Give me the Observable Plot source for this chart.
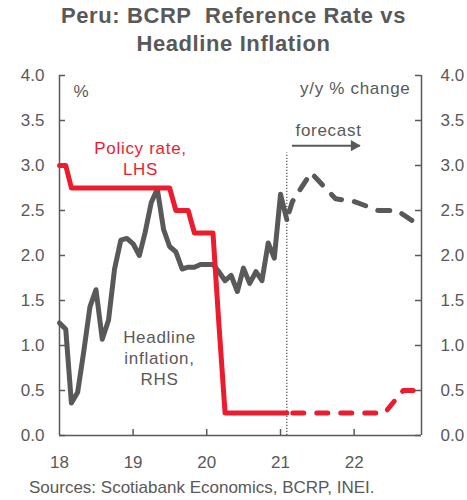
<!DOCTYPE html>
<html><head><meta charset="utf-8">
<script src="https://cdn.jsdelivr.net/npm/d3@7"></script>
<script src="https://cdn.jsdelivr.net/npm/@observablehq/plot@0.6"></script>
<style>
body{margin:0;background:#fff;font-family:"Liberation Sans",Arial,sans-serif;color:#595959;}
#title{width:467px;text-align:center;font-weight:bold;font-size:22px;letter-spacing:0.6px;line-height:28px;height:58px;padding-top:2px;box-sizing:border-box;}
#chart{height:414px;}
#caption{font-size:17px;padding-left:29px;line-height:20px;padding-top:6px;}
</style></head><body>
<div id="title">Peru: BCRP&nbsp; Reference Rate vs<br>Headline Inflation</div>
<div id="chart"></div>
<div id="caption">Sources: Scotiabank Economics, BCRP, INEI.</div>
<script>
// ---- data ----
const actualStart = "2018-01"; // monthly, Jan 2018 - Feb 2021
const policyRateActual = [
  3.00, 3.00, 2.75, 2.75, 2.75, 2.75, 2.75, 2.75, 2.75, 2.75, 2.75, 2.75,
  2.75, 2.75, 2.75, 2.75, 2.75, 2.75, 2.75, 2.50, 2.50, 2.50, 2.25, 2.25,
  2.25, 2.25, 1.25, 0.25, 0.25, 0.25, 0.25, 0.25, 0.25, 0.25, 0.25, 0.25,
  0.25, 0.25
];
const inflationActual = [
  1.25, 1.18, 0.36, 0.48, 0.93, 1.43, 1.62, 1.07, 1.28, 1.85, 2.17, 2.19,
  2.13, 2.00, 2.25, 2.59, 2.74, 2.29, 2.10, 2.04, 1.85, 1.87, 1.87, 1.90,
  1.90, 1.90, 1.82, 1.72, 1.78, 1.60, 1.86, 1.69, 1.82, 1.72, 2.14, 1.97,
  2.68, 2.40
];
const policyForecastMonths = ["2021-02", "2022-06", "2022-09", "2022-12"];
const policyForecastValues = [0.25, 0.25, 0.50, 0.50];
const inflationForecastMonths = ["2021-02", "2021-03", "2021-06", "2021-10", "2022-01", "2022-05", "2022-08", "2022-12"];
const inflationForecastValues = [2.40, 2.60, 2.92, 2.63, 2.60, 2.50, 2.50, 2.32];
const yTicks = [0, 0.5, 1.0, 1.5, 2.0, 2.5, 3.0, 3.5, 4.0];
const xTickMonths = ["2018-01", "2019-01", "2020-01", "2021-01", "2022-01"];
const xDomainMonths = ["2018-01", "2022-12"];
const forecastStartMonth = "2021-02";

// ---- build ----
const parse = d3.utcParse("%Y-%m");
const start = parse(actualStart);
const rateAct = policyRateActual.map((v, i) => ({date: d3.utcMonth.offset(start, i), value: v}));
const inflAct = inflationActual.map((v, i) => ({date: d3.utcMonth.offset(start, i), value: v}));
const rateFc = policyForecastMonths.map((m, i) => ({date: parse(m), value: policyForecastValues[i]}));
const inflFc = inflationForecastMonths.map((m, i) => ({date: parse(m), value: inflationForecastValues[i]}));
const xTicks = xTickMonths.map(parse);
const xDomain = xDomainMonths.map(parse);
const fcStart = parse(forecastStartMonth);

const W = 467, H = 414, mT = 17, mL = 59, mR = 46, mB = 37;
const frameW = W - mL - mR, frameH = H - mT - mB;
const red = "#ec1c2e", gray = "#595959";
const font = 17;
const label = {frameAnchor: "top-left", textAnchor: "middle", lineAnchor: "middle", fontSize: font, lineHeight: 1.25};

const chart = Plot.plot({
  width: W, height: H,
  marginTop: mT, marginLeft: mL, marginRight: mR, marginBottom: mB,
  style: {fontFamily: '"Liberation Sans", Arial, sans-serif', fontSize: font + "px", color: gray, background: "#fff"},
  x: {type: "utc", domain: xDomain},
  y: {domain: [0, 4]},
  marks: [
    Plot.axisY(yTicks, {anchor: "left", tickSize: 0, tickPadding: 15, tickFormat: d3.format(".1f"), label: null, fill: gray, fontSize: font}),
    Plot.axisY(yTicks, {anchor: "right", tickSize: 0, tickPadding: 19, tickFormat: d3.format(".1f"), label: null, fill: gray, fontSize: font, textAnchor: "start"}),
    Plot.axisX(xTicks, {anchor: "bottom", tickSize: 0, tickPadding: 20, tickFormat: d3.utcFormat("%y"), label: null, fill: gray, fontSize: font}),
    // axis lines
    Plot.ruleX([xDomain[0], xDomain[1]], {y1: 0, y2: 4, stroke: gray, strokeWidth: 1.5}),
    Plot.ruleY([0], {stroke: gray, strokeWidth: 1.5}),
    // inward ticks
    Plot.tickY(yTicks, {y: d => d, insetRight: frameW - 6, stroke: gray, strokeWidth: 1.5}),
    Plot.tickY(yTicks, {y: d => d, insetLeft: frameW - 6, stroke: gray, strokeWidth: 1.5}),
    Plot.tickX(xTicks.slice(1), {x: d => d, insetTop: frameH - 6, stroke: gray, strokeWidth: 1.5}),
    // forecast divider
    Plot.ruleX([fcStart], {y1: 0, y2: 3.14, stroke: gray, strokeWidth: 1.3, strokeDasharray: "1.3,1.7"}),
    // series
    Plot.line(inflAct, {x: "date", y: "value", stroke: gray, strokeWidth: 5, strokeLinejoin: "round", strokeLinecap: "round"}),
    Plot.line(inflFc, {x: "date", y: "value", stroke: gray, strokeWidth: 5, strokeLinejoin: "round", strokeLinecap: "round", strokeDasharray: "12,13", strokeDashoffset: -8}),
    Plot.line(rateAct, {x: "date", y: "value", stroke: red, strokeWidth: 5, strokeLinejoin: "round"}),
    Plot.line(rateFc, {x: "date", y: "value", stroke: red, strokeWidth: 5, strokeLinejoin: "round", strokeLinecap: "round", strokeDasharray: "11,13", strokeDashoffset: -6}),
    // annotations
    Plot.text(["%"], {...label, dx: 22, dy: 15, fill: gray}),
    Plot.text(["Policy rate,\nLHS"], {...label, dx: 81, dy: 82.5, fill: red}),
    Plot.text(["Headline\ninflation,\nRHS"], {...label, dx: 100, dy: 281.5, fill: gray}),
    Plot.text(["y/y % change"], {...label, frameAnchor: "top-right", dx: -11, dy: 12, textAnchor: "end", fill: gray}),
    Plot.text(["forecast"], {...label, dx: 236, dy: 54, textAnchor: "start", fill: gray}),
    Plot.ruleY([3.22], {x1: parse("2021-03"), x2: parse("2022-02"), stroke: gray, strokeWidth: 2}),
    Plot.dot([3.22], {x: () => parse("2022-01"), y: d => d, symbol: "triangle", rotate: 90, r: 4.2, fill: gray, stroke: null})
  ]
});
d3.select(chart).selectAll('g[aria-label="text"]').style("letter-spacing", "0.7px");
document.getElementById("chart").appendChild(chart);
</script>
</body></html>
